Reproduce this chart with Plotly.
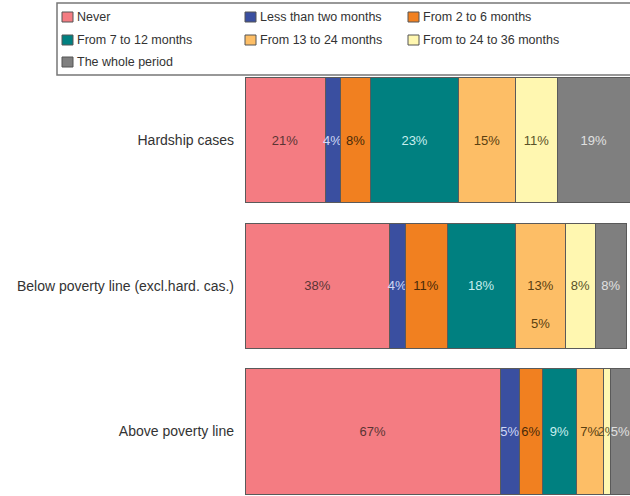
import plotly.graph_objects as go

categories = ["Hardship cases", "Below poverty line (excl.hard. cas.)", "Above poverty line"]
series_names = ["Never", "Less than two months", "From 2 to 6 months", "From 7 to 12 months",
                "From 13 to 24 months", "From to 24 to 36 months", "The whole period"]
values = [
    [21, 38, 67],
    [4, 4, 5],
    [8, 11, 6],
    [23, 18, 9],
    [15, 13, 7],
    [11, 8, 2],
    [19, 8, 5],
]
colors = ["#F47C82", "#3A4FA0", "#F18020", "#008080", "#FDBE66", "#FFF7B0", "#7F7F7F"]
text_colors = ["#5a3434", "#d0d8f4", "#4a2a08", "#c8eeee", "#5a4010", "#5a5228", "#e0e0e0"]
stray_label = "5%"
stray_series = 4
stray_cat = 1

W, H = 630, 496
ML, MR, MT, MB = 245, 0, 68, 0
PW, PH = W - ML - MR, H - MT - MB


def px2x(px):
    return (px - ML) / PW


def px2y(py):
    return 1 - (py - MT) / PH


fig = go.Figure()
for name, vals, col, tcol in zip(series_names, values, colors, text_colors):
    fig.add_trace(go.Bar(
        name=name, y=categories, x=vals, orientation="h",
        marker=dict(color=col, line=dict(color="#5a5a5a", width=1)),
        text=[f"{v}%" for v in vals], textposition="inside", insidetextanchor="middle",
        constraintext="none", textangle=0,
        textfont=dict(family="Liberation Sans, Arial", size=13, color=tcol),
        hoverinfo="skip", showlegend=False,
    ))

# stray label seen in the reference inside the 13-24 segment of the second bar
left = sum(values[i][stray_cat] for i in range(stray_series))
fig.add_annotation(x=left + values[stray_series][stray_cat] / 2, y=categories[stray_cat],
                   yshift=-38, text=stray_label, showarrow=False,
                   font=dict(family="Liberation Sans, Arial", size=13, color=text_colors[stray_series]))

# hand-drawn legend box (layout only)
shapes = [dict(type="rect", xref="paper", yref="paper",
               x0=px2x(57), x1=px2x(640), y0=px2y(75), y1=px2y(3),
               line=dict(color="#777777", width=1.5), fillcolor="white", layer="above")]
col_x = [62, 245, 408]
row_y = [17, 40, 62]
annotations = []
for i, (name, col) in enumerate(zip(series_names, colors)):
    cx = col_x[i % 3]
    cy = row_y[i // 3]
    shapes.append(dict(type="rect", xref="paper", yref="paper",
                       x0=px2x(cx), x1=px2x(cx + 11), y0=px2y(cy + 5), y1=px2y(cy - 5),
                       line=dict(color="#555555", width=1), fillcolor=col, layer="above"))
    annotations.append(dict(xref="paper", yref="paper", x=px2x(cx + 13), y=px2y(cy),
                            xanchor="left", yanchor="middle", text=name, showarrow=False,
                            font=dict(family="Liberation Sans, Arial", size=12.5, color="#333333")))

fig.update_layout(
    barmode="stack", bargap=0.14,
    width=W, height=H,
    margin=dict(l=ML, r=MR, t=MT, b=MB, autoexpand=False),
    paper_bgcolor="white", plot_bgcolor="white",
    font=dict(family="Liberation Sans, Arial", size=11, color="#333333"),
    showlegend=False,
    shapes=shapes,
)
for a in annotations:
    fig.add_annotation(**a)
fig.update_xaxes(range=[0, 101], visible=False, fixedrange=True)
fig.update_yaxes(range=[2.443, -0.497], showgrid=False, zeroline=False, showline=False,
                 ticks="", ticklabelstandoff=10, automargin=False,
                 tickfont=dict(size=14, color="#333333"))

fig.write_html("out.html", config={"displayModeBar": False},
               post_script="document.body.style.margin='0';document.body.style.overflow='hidden';")
